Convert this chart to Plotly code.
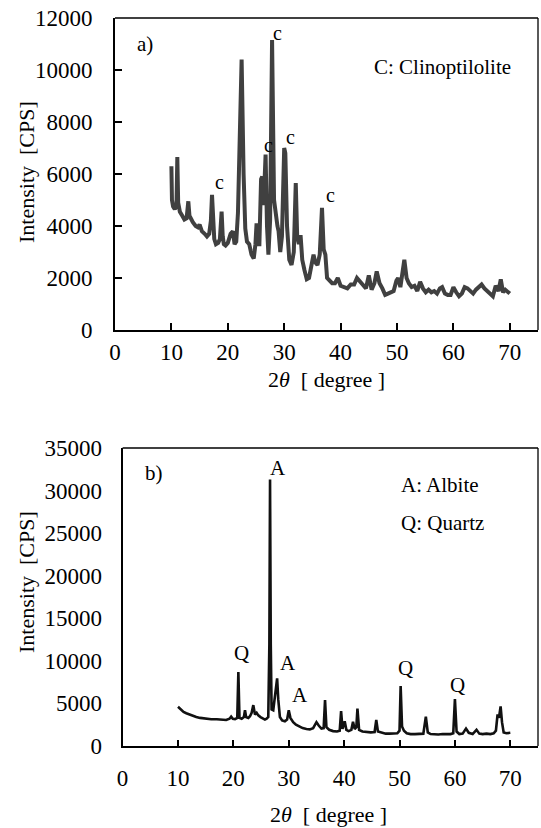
import plotly.graph_objects as go

# ---------------- data: panel a) (clinoptilolite sample) ----------------
top_x = [10.0, 10.1, 10.3, 10.6, 10.9, 11.05, 11.2, 11.5, 11.9, 12.3, 12.7, 13.0, 13.2, 13.5,
         13.8, 14.3, 14.7, 15.0, 15.4, 15.9, 16.3, 16.7, 17.0, 17.2, 17.4, 17.6, 17.9, 18.3,
         18.6, 18.9, 19.1, 19.3, 19.6, 20.0, 20.5, 20.9, 21.2, 21.5, 21.8, 22.1, 22.45, 22.8,
         23.1, 23.4, 23.8, 24.2, 24.6, 24.9, 25.1, 25.3, 25.6, 25.9, 26.1, 26.35, 26.7, 26.95,
         27.2, 27.5, 27.85, 28.2, 28.5, 28.8, 29.0, 29.3, 29.6, 30.0, 30.2, 30.5, 30.9, 31.3,
         31.7, 32.05, 32.3, 32.6, 32.9, 33.2, 33.6, 34.0, 34.4, 34.8, 35.2, 35.5, 35.9, 36.3,
         36.7, 37.0, 37.3, 37.6, 38.0, 38.5, 39.0, 39.5, 40.0, 40.6, 41.2, 41.8, 42.4, 42.9,
         43.4, 43.9, 44.5, 45.0, 45.5, 46.0, 46.4, 46.9, 47.4, 47.9, 48.4, 48.9, 49.4, 49.9,
         50.2, 50.6, 51.0, 51.3, 51.7, 52.1, 52.6, 53.1, 53.6, 54.1, 54.6, 55.1, 55.6, 56.1,
         56.6, 57.1, 57.6, 58.0, 58.5, 59.0, 59.5, 60.0, 60.5, 61.0, 61.5, 62.0, 62.5, 63.0,
         63.5, 64.0, 64.5, 65.0, 65.5, 66.0, 66.5, 67.0, 67.5, 68.0, 68.4, 68.8, 69.2, 69.6, 70.0]
top_y = [6300, 5000, 4750, 4650, 4800, 6650, 4900, 4550, 4400, 4250, 4300, 4950, 4400, 4250,
         4150, 4000, 3950, 4050, 3800, 3700, 3600, 3700, 4200, 5200, 4300, 3500, 3300, 3350,
         3500, 4550, 3600, 3300, 3250, 3350, 3700, 3800, 3300, 3400, 4500, 8000, 10400, 6000,
         3900, 3400, 3300, 2900, 2750, 3300, 4100, 3300, 3300, 5800, 5900, 4800, 6750, 4000,
         2900, 4200, 11150, 5000, 4300, 4000, 3800, 3000, 3600, 7000, 6800, 4000, 2700, 2500,
         3000, 5650, 3600, 3300, 3650, 2700, 2300, 1950, 2000, 2500, 2900, 2600, 2500, 2900,
         4700, 3100, 2900, 2000, 1900, 1800, 1800, 2000, 1700, 1650, 1600, 1750, 1750, 2000,
         1850, 1750, 1600, 2100, 1550, 1800, 2250, 1800, 1600, 1350, 1400, 1450, 1500, 1900,
         2000, 1650, 2400, 2700, 2000, 1800, 1650, 1700, 1500, 1850, 1600, 1450, 1550, 1450,
         1500, 1400, 1600, 1650, 1400, 1350, 1350, 1650, 1450, 1300, 1400, 1650, 1600, 1500,
         1400, 1550, 1650, 1750, 1600, 1500, 1350, 1300, 1700, 1500, 1950, 1450, 1550, 1450, 1400]

# ---------------- data: panel b) (albite / quartz sample) ----------------
bot_x = [10.0, 10.5, 11.0, 11.5, 12.0, 12.7, 13.3, 14.0, 15.0, 16.0, 17.0, 18.0, 18.7, 19.3,
         19.6, 19.9, 20.3, 20.7, 20.9, 21.1, 21.5, 21.9, 22.1, 22.3, 22.7, 23.0, 23.3, 23.6,
         23.9, 24.2, 24.5, 24.9, 25.3, 25.7, 26.0, 26.3, 26.5, 26.62, 26.75, 26.9, 27.2, 27.5,
         27.9, 28.1, 28.4, 28.8, 29.3, 29.7, 30.0, 30.3, 30.8, 31.3, 31.8, 32.5, 33.2, 33.8,
         34.4, 35.0, 35.4, 35.9, 36.3, 36.55, 36.8, 37.3, 38.0, 38.7, 39.2, 39.45, 39.7, 40.1,
         40.4, 40.8, 41.3, 41.6, 41.9, 42.2, 42.4, 42.7, 43.3, 44.0, 44.8, 45.5, 45.8, 46.1,
         46.8, 47.5, 48.2, 49.0, 49.6, 50.0, 50.2, 50.45, 50.8, 51.3, 52.0, 52.8, 53.6, 54.3,
         54.75, 55.1, 55.6, 56.3, 57.0, 57.8, 58.5, 59.2, 59.7, 60.0, 60.3, 60.8, 61.4, 62.0,
         62.5, 63.2, 63.9, 64.4, 65.0, 65.7, 66.4, 67.0, 67.4, 67.7, 67.95, 68.25, 68.5, 68.8,
         69.3, 70.0]
bot_y = [4600, 4300, 4000, 3850, 3700, 3550, 3400, 3300, 3200, 3150, 3150, 3100, 3050, 3200,
         3450, 3200, 3150, 3300, 8700, 3300, 3200, 3400, 4200, 3400, 3300, 3500, 3900, 4800,
         3700, 3900, 3600, 3400, 3200, 3100, 3200, 3400, 12000, 31300, 12000, 4300, 4200, 6000,
         7950, 5500, 3400, 3000, 2900, 3100, 4200, 3300, 2800, 2500, 2300, 2100, 2000, 1950,
         2100, 2800, 2400, 2050, 2100, 5400, 2200, 1900, 1750, 1700, 1800, 4100, 2000, 2900,
         1900, 1750, 1900, 2850, 2000, 2200, 4400, 1900, 1700, 1650, 1600, 1650, 3050, 1700,
         1550, 1450, 1450, 1450, 1500, 1800, 7050, 2300, 1800, 1500, 1400, 1400, 1400, 1450,
         3450, 1600, 1400, 1350, 1350, 1400, 1400, 1400, 1500, 5500, 1700, 1400, 1450, 2050,
         1550, 1400, 1900, 1450, 1400, 1450, 1400, 1500, 1800, 3700, 3300, 4650, 2800, 1600,
         1500, 1550]

x_ticks = [0, 10, 20, 30, 40, 50, 60, 70]
top_y_ticks = [0, 2000, 4000, 6000, 8000, 10000, 12000]
bot_y_ticks = [0, 5000, 10000, 15000, 20000, 25000, 30000, 35000]

W, H = 541, 828
FONT = "Liberation Serif"

def px(v):
    return v / W

def py(v):
    return 1 - v / H

fig = go.Figure()
fig.add_trace(go.Scatter(x=top_x, y=top_y, xaxis="x", yaxis="y", mode="lines",
                         line=dict(color="#404040", width=4), showlegend=False))
fig.add_trace(go.Scatter(x=bot_x, y=bot_y, xaxis="x2", yaxis="y2", mode="lines",
                         line=dict(color="#111111", width=2.6), showlegend=False))

axis_common = dict(showgrid=False, zeroline=False, showline=True, linecolor="black",
                   linewidth=2, tickcolor="black", tickwidth=2, tickformat="d",
                   automargin=False,
                   tickfont=dict(family=FONT, size=23, color="black"))

fig.update_layout(
    width=W, height=H, margin=dict(l=0, r=0, t=0, b=0, pad=0),
    font=dict(family=FONT, size=22, color="black"),
    paper_bgcolor="white", plot_bgcolor="white",
    xaxis=dict(domain=[px(115), px(538)], anchor="y", range=[0, 75], tickvals=x_ticks,
               ticks="inside", ticklen=7, ticklabelstandoff=0, **axis_common),
    yaxis=dict(domain=[py(330), py(18)], anchor="x", range=[0, 12000], tickvals=top_y_ticks,
               ticks="inside", ticklen=7, ticklabelstandoff=16, **axis_common),
    xaxis2=dict(domain=[px(122.6), px(538)], anchor="y2", range=[0, 75], tickvals=x_ticks,
                ticks="inside", ticklen=6, ticklabelstandoff=10, **axis_common),
    yaxis2=dict(domain=[py(746), py(448)], anchor="x2", range=[0, 35000], tickvals=bot_y_ticks,
                ticks="", ticklabelstandoff=14, **axis_common),
)

# thin top / right frame lines
for xr, yr in (("x domain", "y domain"), ("x2 domain", "y2 domain")):
    fig.add_shape(type="line", xref=xr, yref=yr, x0=0, x1=1, y0=1, y1=1,
                  line=dict(color="black", width=1.3))
    fig.add_shape(type="line", xref=xr, yref=yr, x0=1, x1=1, y0=0, y1=1,
                  line=dict(color="black", width=1.3))

def paper_text(text, x, y, size=21, angle=0):
    fig.add_annotation(text=text, xref="paper", yref="paper", x=px(x), y=py(y),
                       xanchor="center", yanchor="middle", showarrow=False, textangle=angle,
                       font=dict(family=FONT, size=size, color="black"))

def data_text(text, x, y, xa="x", ya="y", size=21):
    fig.add_annotation(text=text, xref=xa, yref=ya, x=x, y=y, xanchor="center",
                       yanchor="middle", showarrow=False,
                       font=dict(family=FONT, size=size, color="black"))

# axis titles
paper_text("Intensity  [CPS]", 26, 172, size=22, angle=-90)
paper_text("2<i>θ</i>  [ degree ]", 326, 379, size=22)
paper_text("Intensity  [CPS]", 26, 582, size=22, angle=-90)
paper_text("2<i>θ</i>  [ degree ]", 328, 814, size=22)

# panel a) labels
paper_text("a)", 145, 44, size=21)
paper_text("C: Clinoptilolite", 442, 67, size=21)
for cx, cy in ((28.8, 11420), (27.3, 7115), (31.1, 7420), (18.5, 5690), (38.2, 5190)):
    data_text("c", cx, cy, size=20)

# panel b) labels
paper_text("b)", 154, 473, size=21)
paper_text("A: Albite", 440, 485, size=21)
paper_text("Q: Quartz", 442, 523, size=21)
for lab, lx, ly in (("A", 28.1, 32650), ("Q", 21.45, 10920), ("A", 29.9, 9750),
                    ("A", 32.0, 5990), ("Q", 51.1, 9160), ("Q", 60.4, 7160)):
    data_text(lab, lx, ly, xa="x2", ya="y2", size=21)

fig.write_html("out.html")
